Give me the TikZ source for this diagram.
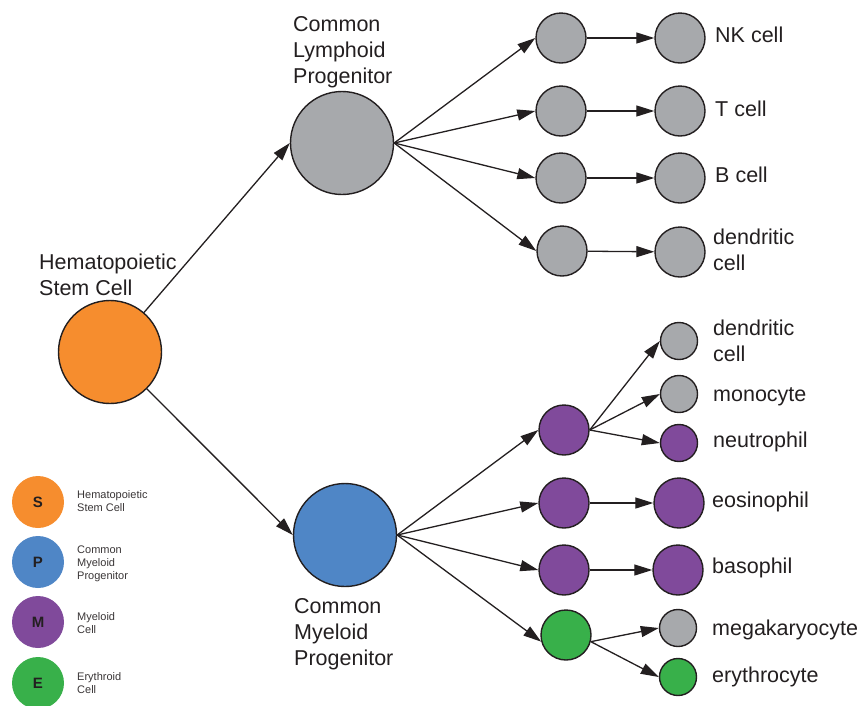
\documentclass[tikz,border=0pt]{standalone}
\usepackage{fontspec}
\setmainfont{Liberation Sans}
\usetikzlibrary{arrows.meta}
\definecolor{ink}{HTML}{231F20}
\definecolor{cOrange}{HTML}{F68D2E}
\definecolor{cBlue}{HTML}{4F86C6}
\definecolor{cPurple}{HTML}{804A9B}
\definecolor{cGreen}{HTML}{38B04A}
\definecolor{cGray}{HTML}{A7A9AC}
\begin{document}
\begin{tikzpicture}[x=1pt,y=-1pt,
  cell/.style={circle, draw=ink, line width=1.4pt, inner sep=0pt, minimum size=#1},
  big/.style={cell=103pt},
  mid/.style={cell=50pt},
  small/.style={cell=37pt},
  legcirc/.style={circle, inner sep=0pt, minimum size=52pt, text=ink, font=\bfseries\fontsize{15}{18}\selectfont},
  lbl/.style={anchor=base west, inner sep=0pt, align=left, text=ink, font=\fontsize{21.5}{26}\selectfont},
  leglbl/.style={anchor=base west, inner sep=0pt, align=left, text=ink!90, font=\fontsize{11}{13}\selectfont},
  arr/.style={draw=ink, line width=1.3pt, -{Triangle[length=18pt,width=11pt]}}]
\useasboundingbox (0,0) rectangle (861,705);

% main cells
\node[big, fill=cOrange] (hsc) at (110,352) {};
\node[big, fill=cGray] (clp) at (342,143) {};
\node[big, fill=cBlue] (cmp) at (345,535) {};

% lymphoid branch
\node[mid, fill=cGray] (l1) at (561,38) {};
\node[mid, fill=cGray] (l2) at (561,111) {};
\node[mid, fill=cGray] (l3) at (561,178) {};
\node[mid, fill=cGray] (l4) at (562,251) {};
\node[mid, fill=cGray] (f1) at (680,38) {};
\node[mid, fill=cGray] (f2) at (680,111) {};
\node[mid, fill=cGray] (f3) at (680,178) {};
\node[mid, fill=cGray] (f4) at (680,252) {};

% myeloid branch
\node[mid, fill=cPurple] (m1) at (564,430) {};
\node[mid, fill=cPurple] (m2) at (564,503) {};
\node[mid, fill=cPurple] (m3) at (564,570) {};
\node[mid, fill=cGreen] (g) at (566,635) {};
\node[small, fill=cGray] (s1) at (679,341) {};
\node[small, fill=cGray] (s2) at (679,394) {};
\node[small, fill=cPurple] (s3) at (679,443) {};
\node[mid, fill=cPurple] (eo) at (679,503) {};
\node[mid, fill=cPurple] (ba) at (678,570) {};
\node[small, fill=cGray] (mk) at (678,628) {};
\node[small, fill=cGreen] (er) at (678,677) {};

% arrows
\draw[arr] (hsc) -- (clp.west);
\draw[arr] (hsc) -- (cmp.west);
\foreach \i in {1,2,3,4}{
  \draw[arr] (clp.east) -- (l\i.west);
  \draw[arr] (l\i) -- (f\i);
}
\draw[arr] (cmp.east) -- (m1.west);
\draw[arr] (cmp.east) -- (m2.west);
\draw[arr] (cmp.east) -- (m3.west);
\draw[arr] (cmp.east) -- (g.195);
\draw[arr] (m1.east) -- (s1.west);
\draw[arr] (m1.east) -- (s2.west);
\draw[arr] (m1.east) -- (s3.west);
\draw[arr] (m2) -- (eo);
\draw[arr] (m3) -- (ba);
\draw[arr] (g.-15) -- (mk.west);
\draw[arr] (g.-15) -- (er.west);

% labels (base = baseline of last line)
\node[lbl] (thsc) at (39,295) {Hematopoietic\\Stem Cell};
\node[lbl] (tclp) at (293,83) {Common\\Lymphoid\\Progenitor};
\node[lbl] (tcmp) at (294,665) {Common\\Myeloid\\Progenitor};
\node[lbl] (tnk) at (715,42) {NK cell};
\node[lbl] (tt) at (715,116) {T cell};
\node[lbl] (tb) at (715,182) {B cell};
\node[lbl] (tdc1) at (713,270) {dendritic\\cell};
\node[lbl] (tdc2) at (713,361) {dendritic\\cell};
\node[lbl] (tmo) at (713,401) {monocyte};
\node[lbl] (tne) at (713,447) {neutrophil};
\node[lbl] (teo) at (712,507) {eosinophil};
\node[lbl] (tba) at (712,573) {basophil};
\node[lbl] (tmk) at (712,635) {megakaryocyte};
\node[lbl] (ter) at (712,682) {erythrocyte};

% legend
\node[legcirc, fill=cOrange] (legS) at (38,502) {S};
\node[legcirc, fill=cBlue] (legP) at (38,562) {P};
\node[legcirc, fill=cPurple] (legM) at (38,622) {M};
\node[legcirc, fill=cGreen] (legE) at (38,683) {E};
\node[leglbl] (tlegS) at (77,511) {Hematopoietic\\Stem Cell};
\node[leglbl] (tlegP) at (77,579) {Common\\Myeloid\\Progenitor};
\node[leglbl] (tlegM) at (77,633) {Myeloid\\Cell};
\node[leglbl] (tlegE) at (77,693) {Erythroid\\Cell};
\end{tikzpicture}
\end{document}
